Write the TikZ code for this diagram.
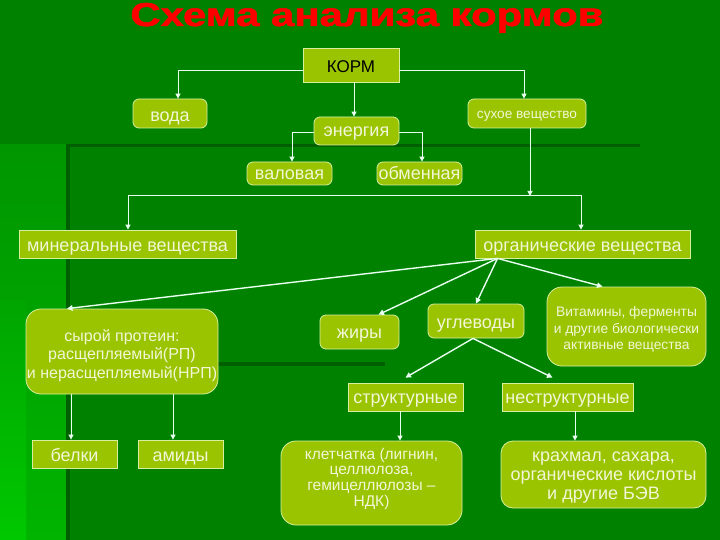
\documentclass[tikz,border=0pt]{standalone}
\usepackage{fontspec}
\setmainfont{Liberation Sans}
\newfontfamily\titlefont{Liberation Sans}[BoldFeatures={FakeBold=1.5}]
\usetikzlibrary{arrows.meta,calc}
\definecolor{bg}{RGB}{0,130,0}
\definecolor{bgdark}{RGB}{0,95,0}
\definecolor{nodefill}{RGB}{155,196,0}
\definecolor{nodeborder}{RGB}{215,240,160}
\definecolor{nodetext}{RGB}{242,246,215}
\definecolor{connector}{RGB}{232,255,240}
\definecolor{titlered}{RGB}{255,0,0}
% text placed with its first baseline #1 below the node centre
\newcommand\boxtext[2]{\raisebox{-#1}[0pt][0pt]{\begin{tabular}[t]{@{}c@{}}#2\end{tabular}}}
\tikzset{
  box/.style={draw=nodeborder, fill=nodefill, line width=0.8pt, inner sep=0pt,
    text=nodetext, align=center, font=\fontsize{18}{19.5}\selectfont},
  rbox/.style={box, rounded corners=6pt},
  bigrbox/.style={box, rounded corners=15pt},
  conn/.style={draw=connector, line width=1pt, -{Triangle[width=5pt,length=5pt]}},
  diag/.style={draw=connector, line width=1.4pt, -{Triangle[width=5.5pt,length=5.5pt]}}
}
\begin{document}
\begin{tikzpicture}[x=1pt,y=-1pt]
\useasboundingbox (0,0) rectangle (720,540);
% background
\fill[bg] (0,0) rectangle (720,540);
\shade[top color={rgb,255:red,0;green,150;blue,0}, bottom color={rgb,255:red,0;green,180;blue,0}] (0,145) rectangle (67,540);
\shade[top color={rgb,255:red,0;green,165;blue,0}, bottom color={rgb,255:red,0;green,200;blue,0}] (0,300) rectangle (26,540);
\fill[bgdark] (66,144) rectangle (640,147);
\fill[bgdark] (66,144) rectangle (70,540);
\fill[bgdark] (70,362) rectangle (385,366);

% title
\node[anchor=base, text=titlered] (title) at (367,26)
  {\scalebox{1.27}[1]{\titlefont\bfseries\fontsize{33}{33}\selectfont Схема анализа кормов}};

% nodes
\node[box, text=black, minimum width=96pt, minimum height=34pt, font=\fontsize{17}{19}\selectfont] (korm) at (351,65) {\boxtext{8pt}{КОРМ}};
\node[rbox, minimum width=74pt, minimum height=29pt] (voda) at (170,113.5) {\boxtext{8.5pt}{вода}};
\node[rbox, minimum width=118pt, minimum height=29pt, font=\fontsize{13.6}{15}\selectfont] (dry) at (527,113.5) {\boxtext{5.5pt}{сухое вещество}};
\node[rbox, minimum width=85pt, minimum height=28pt] (en) at (356.5,131) {\boxtext{6pt}{энергия}};
\node[rbox, minimum width=85pt, minimum height=23pt] (val) at (289.5,173.5) {\boxtext{6.5pt}{валовая}};
\node[rbox, minimum width=85pt, minimum height=23pt] (obm) at (419.5,173.5) {\boxtext{6.5pt}{обменная}};
\node[box, minimum width=217pt, minimum height=28pt] (min) at (127.5,244) {\boxtext{7pt}{минеральные вещества}};
\node[box, minimum width=215pt, minimum height=28pt] (org) at (582.5,244) {\boxtext{7pt}{органические вещества}};
\node[bigrbox, minimum width=192pt, minimum height=85pt, font=\fontsize{16}{18.7}\selectfont] (prot) at (122,351.5)
  {\boxtext{-10.5pt}{сырой протеин:\\расщепляемый(РП)\\и нерасщепляемый(НРП)}};
\node[rbox, minimum width=79pt, minimum height=34pt] (fat) at (359.5,332) {\boxtext{6pt}{жиры}};
\node[rbox, minimum width=96pt, minimum height=34pt] (carb) at (476,321) {\boxtext{7pt}{углеводы}};
\node[bigrbox, minimum width=159pt, minimum height=79pt, font=\fontsize{13.8}{16.5}\selectfont] (vit) at (626.5,326.5)
  {\boxtext{-10pt}{Витамины, ферменты\\и другие биологически\\активные вещества}};
\node[box, minimum width=115pt, minimum height=28pt] (struct) at (405.5,397) {\boxtext{6pt}{структурные}};
\node[box, minimum width=131pt, minimum height=28pt] (nonstr) at (567.5,397) {\boxtext{6pt}{неструктурные}};
\node[box, minimum width=85pt, minimum height=28pt] (bel) at (74.5,454) {\boxtext{7pt}{белки}};
\node[box, minimum width=85pt, minimum height=28pt] (ami) at (180.5,454) {\boxtext{7pt}{амиды}};
\node[bigrbox, minimum width=181pt, minimum height=84pt, font=\fontsize{15.5}{15.7}\selectfont] (klet) at (371.5,483)
  {\boxtext{-24pt}{клетчатка (лигнин,\\целлюлоза,\\гемицеллюлозы –\\НДК)}};
\node[box, rounded corners=12pt, minimum width=205pt, minimum height=67pt, font=\fontsize{18}{19.2}\selectfont] (kr) at (603.5,474.5)
  {\boxtext{-13pt}{крахмал, сахара,\\органические кислоты\\и другие БЭВ}};

% connectors
\draw[conn] ([yshift=-6pt]korm.west) -| ([xshift=8pt]voda.north);
\draw[conn] ([yshift=-6pt]korm.east) -| ([xshift=-3pt]dry.north);
\draw[conn] ([xshift=3pt]korm.south) -- ([xshift=-2.5pt]en.north);
\draw[conn] ([yshift=-2pt]en.west) -| ([xshift=2.5pt]val.north);
\draw[conn] ([yshift=-2pt]en.east) -| ([xshift=2.5pt]obm.north);
\coordinate (junc) at (530,196);
\draw[conn] ([xshift=3pt]dry.south) -- (junc);
\draw[conn] (junc) -| ([xshift=0.5pt]min.north);
\draw[conn] (junc) -| ([xshift=-1.5pt]org.north);

\coordinate (orgout) at ($(org.south)+(-85,0)$);
\draw[diag] (orgout) -- ([xshift=-55pt]prot.north);
\draw[diag] (orgout) -- ([xshift=19pt]fat.north);
\draw[diag] (orgout) -- (carb.north);
\draw[diag] (orgout) -- ([xshift=-24pt]vit.north);

\draw[diag] ([xshift=-3pt]carb.south) -- ([yshift=5pt]struct.north);
\draw[diag] ([xshift=-3pt]carb.south) -- ([xshift=-15pt,yshift=5pt]nonstr.north);

\draw[conn] ([xshift=-51pt]prot.south) -- ([xshift=-3.5pt]bel.north);
\draw[conn] ([xshift=51pt]prot.south) -- ([xshift=-7.5pt]ami.north);
\draw[conn] ([xshift=-5.5pt]struct.south) -- ([xshift=28.5pt]klet.north);
\draw[conn] ([xshift=7.5pt]nonstr.south) -- ([xshift=-28.5pt]kr.north);
\end{tikzpicture}
\end{document}
